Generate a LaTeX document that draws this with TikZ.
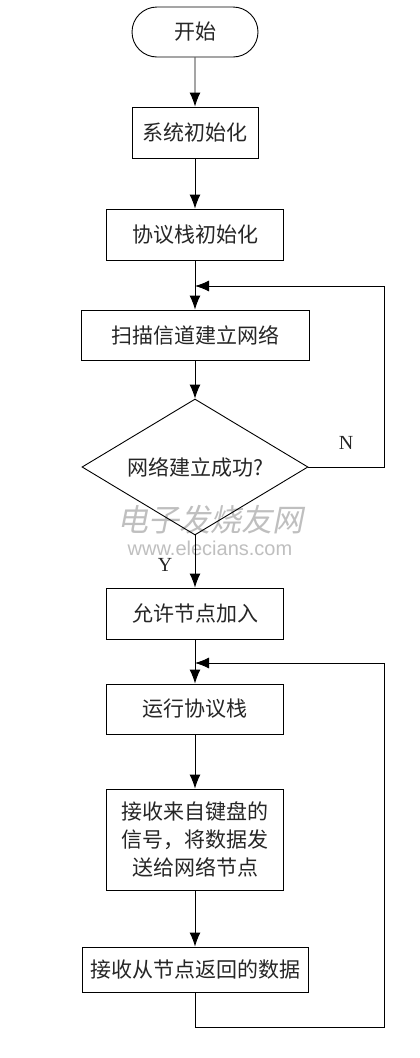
\documentclass[tikz,border=0pt]{standalone}
\usepackage{fontspec}
\usetikzlibrary{arrows.meta,shapes.geometric,shapes.misc,calc}
\newfontfamily\cjk{Noto Sans CJK SC}
\newfontfamily\wmcjk[FakeSlant=0.2]{Noto Sans CJK SC}
\setmainfont{Liberation Serif}
\setsansfont{Liberation Sans}
\tikzset{
  base/.style={draw=black,line width=0.9pt,inner sep=0pt,align=center,font=\cjk\fontsize{21}{28}\selectfont,text=black!85},
  procbox/.style={base,rectangle,minimum width=#1},
  flow/.style={line width=0.9pt,-{Latex[length=14pt,width=11pt]}},
  mark label/.style={font=\fontsize{20}{20}\selectfont,text=black!85,inner sep=0pt},
  wmark/.style={inner sep=0pt,text=black!25}
}
\begin{document}
\begin{tikzpicture}[x=1pt,y=-1pt]
\useasboundingbox[fill=white] (0,0) rectangle (420,1058);
% watermark
\node[wmark,font=\wmcjk\fontsize{31}{31}\selectfont] (wm1) at (210,520) {电子发烧友网};
\node[wmark,font=\sffamily\fontsize{20}{20}\selectfont] (wm2) at (210,548) {www.elecians.com};
% nodes
\node[base,rounded rectangle,minimum width=126pt,minimum height=50pt] (start) at (195,32) {开始};
\node[procbox=126pt,minimum height=51pt] (init) at (195,132.5) {系统初始化};
\node[procbox=177pt,minimum height=51pt] (stack) at (195,234.5) {协议栈初始化};
\node[procbox=228pt,minimum height=50pt] (scan) at (195,335) {扫描信道建立网络};
\node[base,diamond,aspect=1.66,minimum width=226pt,minimum height=136pt] (ok) at (195,467) {网络建立成功?};
\node[procbox=177pt,minimum height=51pt] (allow) at (195,613.5) {允许节点加入};
\node[procbox=177pt,minimum height=50pt] (run) at (195,709) {运行协议栈};
\node[procbox=177pt,minimum height=101pt] (key) at (195,839.5) {接收来自键盘的\\信号，将数据发\\送给网络节点};
\node[procbox=226pt,minimum height=45pt] (recv) at (195,969.5) {接收从节点返回的数据};
% free-end coordinates
\coordinate (a1) at (384,467);
\coordinate (a2) at (384,286);
\coordinate (j1) at (195,286);
\coordinate (b1) at (195,1027);
\coordinate (b2) at (384,1027);
\coordinate (b3) at (384,663);
\coordinate (j2) at (195,663);
% connectors
\draw[flow] (start) -- (init);
\draw[flow] (init) -- (stack);
\draw[flow] (stack) -- (scan);
\draw[flow] (scan) -- (ok);
\draw[flow] (ok) -- (allow);
\draw[flow] (allow) -- (run);
\draw[flow] (run) -- (key);
\draw[flow] (key) -- (recv);
\draw[flow] (ok.east) -- (a1) -- (a2) -- (j1);
\draw[flow] (recv.south) -- (b1) -- (b2) -- (b3) -- (j2);
% labels
\node[mark label] (n) at (346,443) {N};
\node[mark label] (y) at (165,565) {Y};
\end{tikzpicture}
\end{document}
